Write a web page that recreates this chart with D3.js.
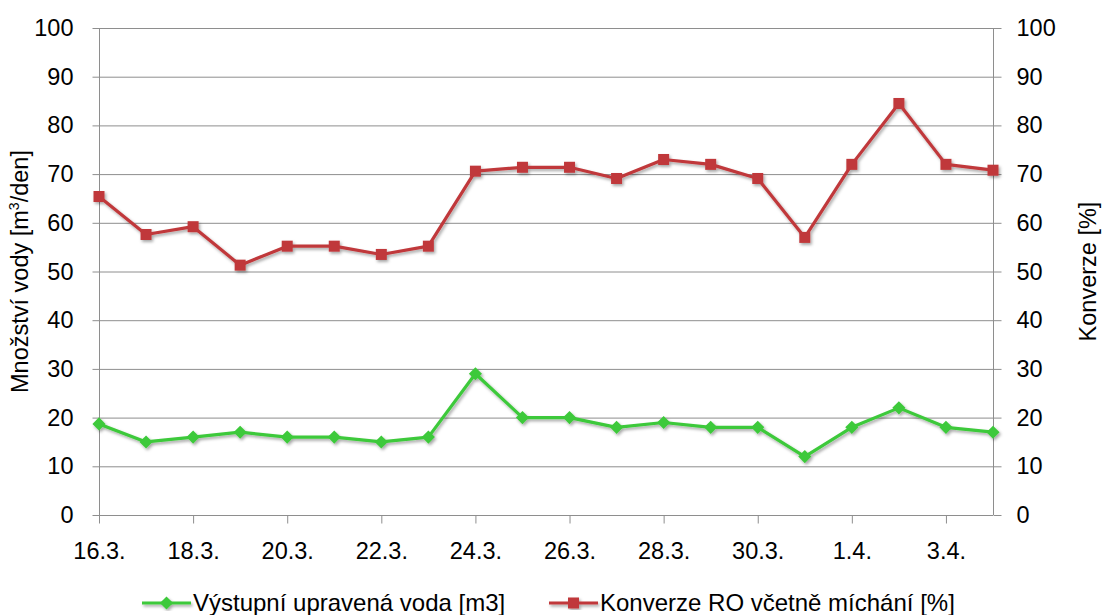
<!DOCTYPE html>
<html>
<head>
<meta charset="utf-8">
<script src="https://cdn.jsdelivr.net/npm/d3@7"></script>
<style>
  html, body { margin: 0; padding: 0; background: #fff; }
  svg { display: block; }
  text { font-family: "Liberation Sans", Arial, sans-serif; fill: #000; }
</style>
</head>
<body>
<svg id="chart" width="1102" height="615"></svg>
<script>
// Daily dates
const dates = ["16.3.", "17.3.", "18.3.", "19.3.", "20.3.", "21.3.", "22.3.", "23.3.",
               "24.3.", "25.3.", "26.3.", "27.3.", "28.3.", "29.3.", "30.3.", "31.3.",
               "1.4.", "2.4.", "3.4.", "4.4."];
// Treated output water [m3/day]
const waterOut = [18.7, 15, 16, 17, 16, 16, 15, 16, 29, 20, 20, 18, 19, 18, 18, 12, 18, 22, 18, 17];
// RO conversion incl. blending [%]
const conversion = [65.4, 57.6, 59.2, 51.3, 55.2, 55.2, 53.5, 55.2, 70.6, 71.4, 71.4, 69.1, 73.0, 72.0, 69.1, 57.0, 72.0, 84.5, 72.0, 70.8];
// Axis ticks
const yTicks = [0, 10, 20, 30, 40, 50, 60, 70, 80, 90, 100];
const xTickLabels = ["16.3.", "18.3.", "20.3.", "22.3.", "24.3.", "26.3.", "28.3.", "30.3.", "1.4.", "3.4."];

const svg = d3.select("#chart");
const L = 99, R = 993, T = 28, B = 515;

const x = d3.scalePoint().domain(dates).range([L, R]);
const yLeft = d3.scaleLinear().domain([0, 100]).range([B, T]);
const yRight = d3.scaleLinear().domain([0, 100]).range([B, T]);

// drop shadow for series
const defs = svg.append("defs");
const f = defs.append("filter").attr("id", "shadow")
  .attr("x", "-10%").attr("y", "-10%").attr("width", "120%").attr("height", "120%");
f.append("feDropShadow").attr("dx", 1.5).attr("dy", 2).attr("stdDeviation", 1.4)
  .attr("flood-color", "#000").attr("flood-opacity", 0.35);

const gridColor = "#8e8e8e";
const tickFont = 23.5;

// horizontal gridlines
svg.append("g").selectAll("line").data(yTicks).join("line")
  .attr("x1", L).attr("x2", R)
  .attr("y1", d => yLeft(d) + 0.5).attr("y2", d => yLeft(d) + 0.5)
  .attr("stroke", gridColor).attr("stroke-width", 1);

// left axis
const gl = svg.append("g").attr("transform", `translate(${L + 0.5},0)`)
  .call(d3.axisLeft(yLeft).tickValues(yTicks).tickSize(7).tickPadding(19).tickFormat(d3.format("d")));
// right axis
const gr = svg.append("g").attr("transform", `translate(${R + 0.5},0)`)
  .call(d3.axisRight(yRight).tickValues(yTicks).tickSize(8).tickPadding(15).tickFormat(d3.format("d")));
// bottom axis
const gb = svg.append("g").attr("transform", `translate(0,${B + 0.5})`)
  .call(d3.axisBottom(x).tickValues(xTickLabels).tickSize(8).tickPadding(19));

[gl, gr, gb].forEach(g => {
  g.select(".domain").attr("stroke", gridColor);
  g.selectAll(".tick line").attr("stroke", gridColor);
  g.selectAll(".tick text").attr("font-size", tickFont).attr("fill", "#000")
    .attr("font-family", "Liberation Sans, Arial, sans-serif");
});
gl.select(".domain").attr("d", `M0,${T}V${B}`);
gr.select(".domain").attr("d", `M0,${T}V${B}`);
gb.select(".domain").attr("d", `M${L},0H${R}`);

// axis titles
svg.append("text").attr("transform", `translate(28,${(T + B) / 2}) rotate(-90)`)
  .attr("text-anchor", "middle").attr("font-size", 23.5)
  .html('Množství vody [m<tspan font-size="14" dy="-9">3</tspan><tspan dy="9">/den]</tspan>');
svg.append("text").attr("transform", `translate(1096,${(T + B) / 2}) rotate(-90)`)
  .attr("text-anchor", "middle").attr("font-size", 23.5)
  .text("Konverze [%]");

const green = "#3dc93a", red = "#c0393b";

const lineL = d3.line().x((d, i) => x(dates[i])).y(d => yLeft(d));
const lineR = d3.line().x((d, i) => x(dates[i])).y(d => yRight(d));

const series = svg.append("g").attr("filter", "url(#shadow)");

// conversion series (squares)
series.append("path").datum(conversion).attr("d", lineR)
  .attr("fill", "none").attr("stroke", red).attr("stroke-width", 3.2).attr("stroke-linejoin", "round");
series.append("g").selectAll("rect").data(conversion).join("rect")
  .attr("x", (d, i) => x(dates[i]) - 5.5).attr("y", d => yRight(d) - 5.5)
  .attr("width", 11).attr("height", 11).attr("fill", red);

// water series (diamonds)
series.append("path").datum(waterOut).attr("d", lineL)
  .attr("fill", "none").attr("stroke", green).attr("stroke-width", 3.2).attr("stroke-linejoin", "round");
const diamond = d3.symbol().type(d3.symbolDiamond2).size(110);
series.append("g").selectAll("path").data(waterOut).join("path")
  .attr("d", diamond)
  .attr("transform", (d, i) => `translate(${x(dates[i])},${yLeft(d)})`)
  .attr("fill", green);

// legend
const legend = svg.append("g");
const items = [
  { label: "Výstupní upravená voda [m3]", color: green, sym: "diamond", x0: 142 },
  { label: "Konverze RO včetně míchání [%]", color: red, sym: "square", x0: 549 }
];
const ly = 603;
items.forEach(it => {
  const g = legend.append("g").attr("filter", "url(#shadow)");
  g.append("line").attr("x1", it.x0).attr("x2", it.x0 + 49).attr("y1", ly).attr("y2", ly)
    .attr("stroke", it.color).attr("stroke-width", 3.2);
  if (it.sym === "diamond") {
    g.append("path").attr("d", diamond).attr("transform", `translate(${it.x0 + 24.5},${ly})`).attr("fill", it.color);
  } else {
    g.append("rect").attr("x", it.x0 + 19).attr("y", ly - 5.5).attr("width", 11).attr("height", 11).attr("fill", it.color);
  }
  legend.append("text").attr("x", it.x0 + 51).attr("y", ly + 8).attr("font-size", 24).text(it.label);
});
</script>
</body>
</html>
